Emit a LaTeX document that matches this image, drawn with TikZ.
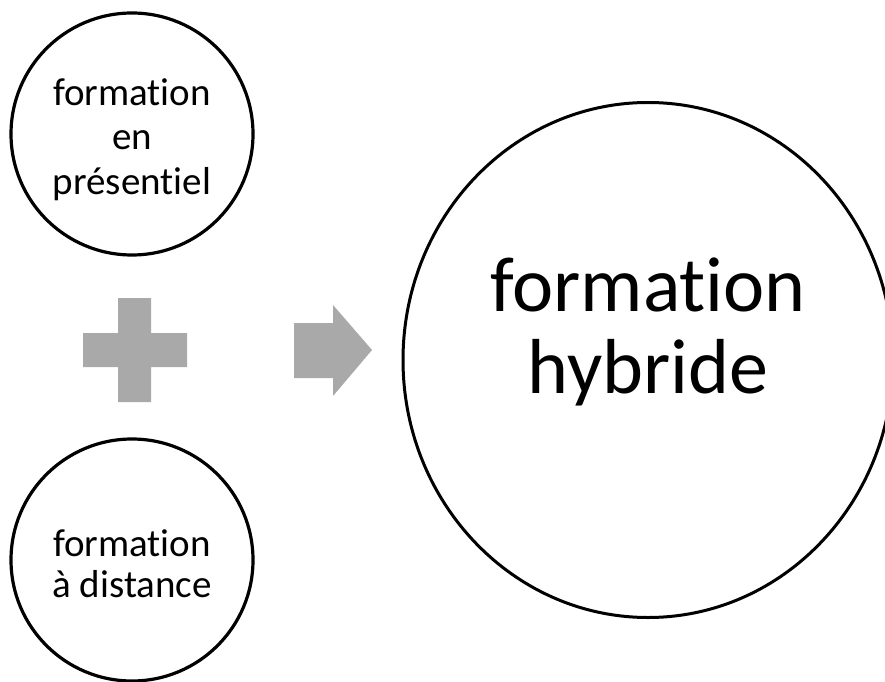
\documentclass[tikz,border=0pt]{standalone}
\usepackage{fontspec}
\setmainfont[Ligatures={NoCommon}]{Carlito}
\usetikzlibrary{shapes.geometric}
\definecolor{shapegray}{HTML}{A9A9A9}
\tikzset{
  smallcirc/.style={circle, draw=black, line width=3.2pt, minimum size=242pt, inner sep=0pt},
  bigcirc/.style={ellipse, draw=black, line width=3pt, minimum width=490pt, minimum height=515pt, inner sep=0pt},
  smalltxt/.style={anchor=base, inner sep=0pt, font=\fontsize{39}{44}\selectfont},
  bigtxt/.style={anchor=base, inner sep=0pt, font=\fontsize{78}{82}\selectfont},
  grayshape/.style={fill=shapegray, draw=none}
}
\begin{document}
\begin{tikzpicture}[x=1pt,y=1pt]
\useasboundingbox (0,0) rectangle (885,681);
\fill[white] (0,0) rectangle (885,681);
\node[smallcirc] (pres) at (132,547) {};
\node[smalltxt] (pres1) at ([yshift=28pt]pres.center) {formation};
\node[smalltxt] (pres2) at ([yshift=-16pt]pres.center) {en};
\node[smalltxt] (pres3) at ([yshift=-61pt]pres.center) {présentiel};
\node[smallcirc] (dist) at (132,121) {};
\node[smalltxt] (dist1) at ([yshift=4pt]dist.center) {formation};
\node[smalltxt] (dist2) at ([yshift=-37pt]dist.center) {à distance};
\node[bigcirc] (hyb) at (648,321) {};
\node[bigtxt] (hyb1) at ([yshift=49pt]hyb.center) {formation};
\node[bigtxt] (hyb2) at ([yshift=-33pt]hyb.center) {hybride};
% plus sign
\fill[grayshape] (118,383) -- (151,383) -- (151,348) -- (187,348) -- (187,314) -- (151,314)
  -- (151,279) -- (118,279) -- (118,314) -- (83,314) -- (83,348) -- (118,348) -- cycle;
% arrow
\fill[grayshape] (294,358) -- (333,358) -- (333,376) -- (372,331) -- (333,285) -- (333,303) -- (294,303) -- cycle;
\end{tikzpicture}
\end{document}
